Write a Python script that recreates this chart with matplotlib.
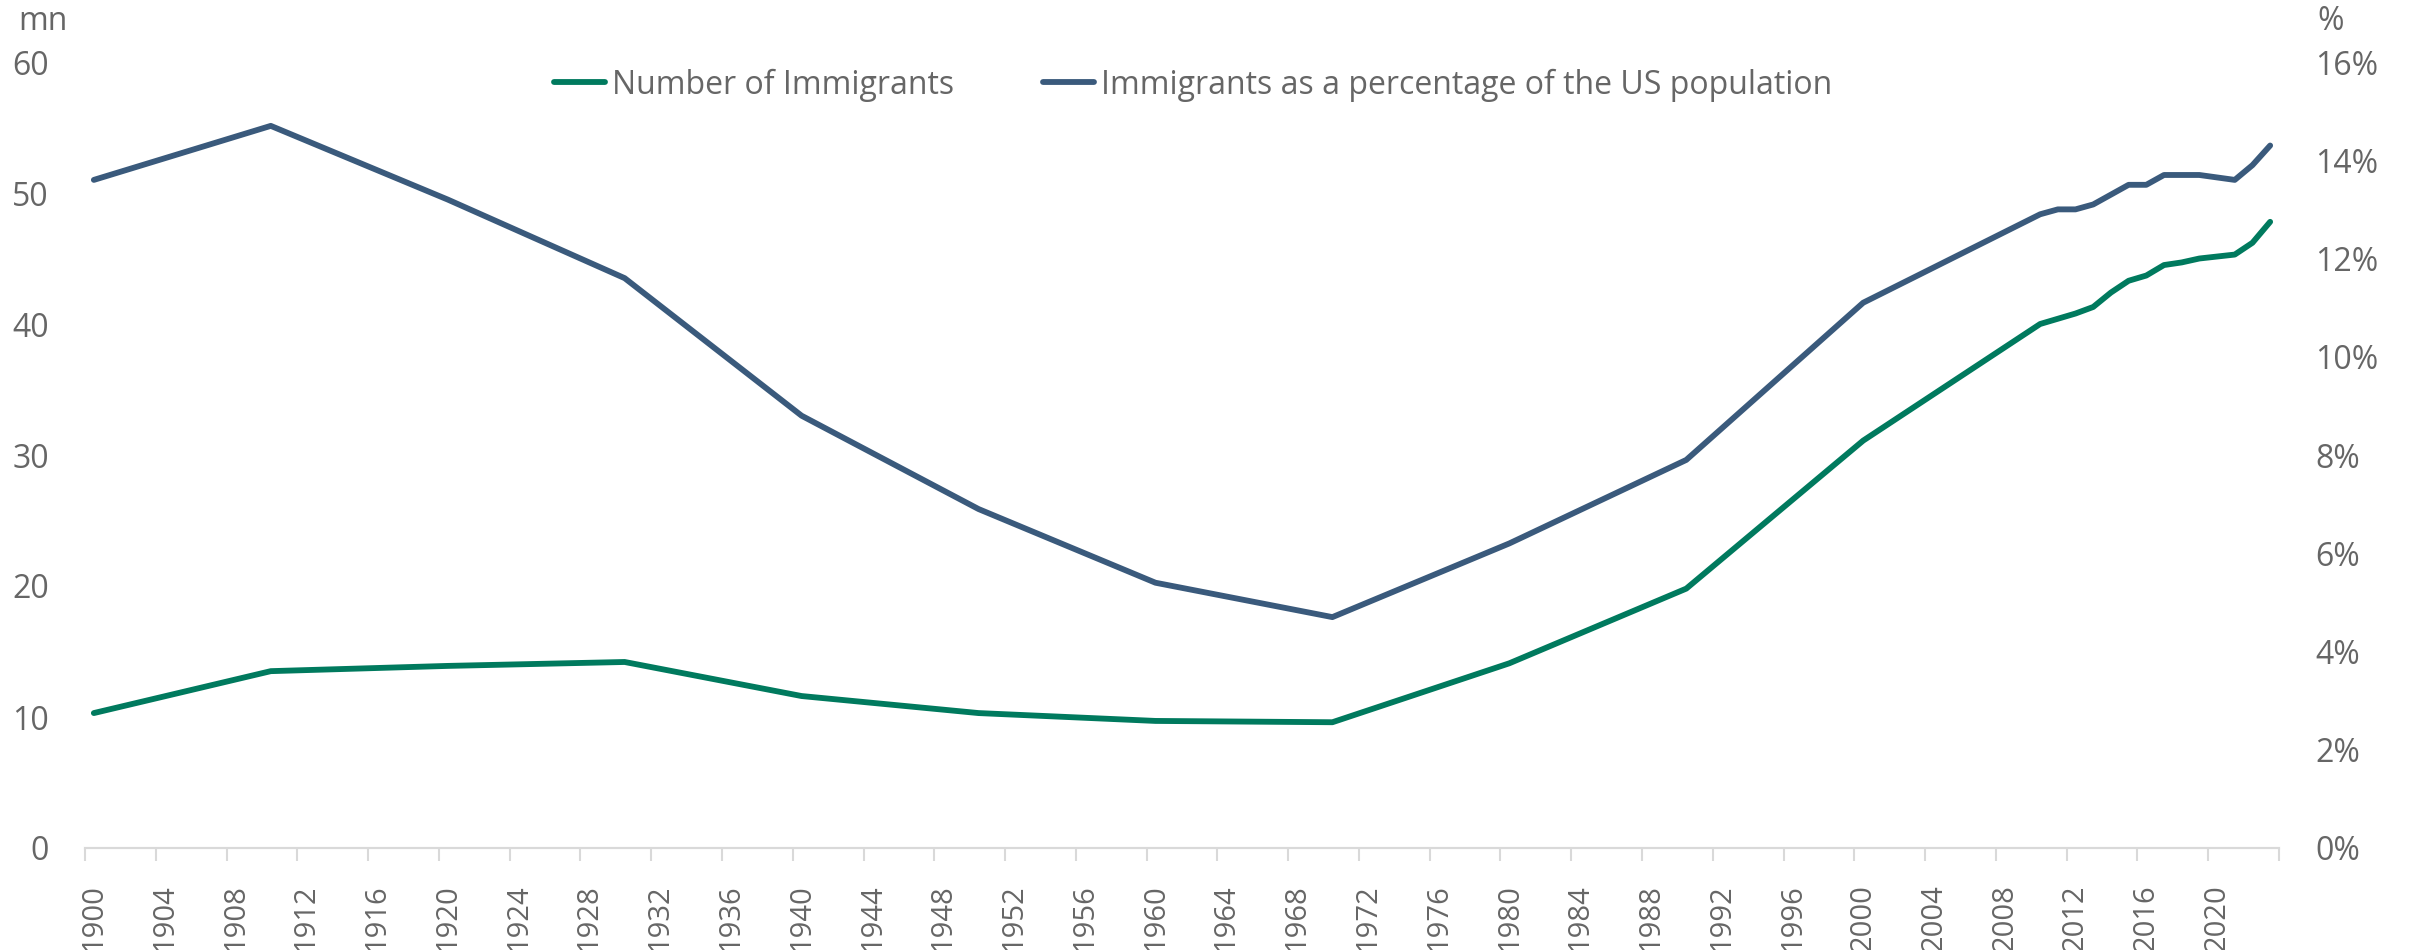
import numpy as np
from matplotlib import pyplot as plt
from matplotlib.ticker import FixedLocator, FixedFormatter

# US immigrant population (2020 not published -> line joins 2019 to 2021)
years = [1900, 1910, 1920, 1930, 1940, 1950, 1960, 1970, 1980, 1990, 2000,
         2010, 2011, 2012, 2013, 2014, 2015, 2016, 2017, 2018, 2019,
         2021, 2022, 2023]
immigrants_mn = [10.3, 13.5, 13.9, 14.2, 11.6, 10.3, 9.7, 9.6, 14.1, 19.8, 31.1,
                 40.0, 40.4, 40.8, 41.3, 42.4, 43.3, 43.7, 44.5, 44.7, 45.0,
                 45.3, 46.2, 47.8]
share_pct = [13.6, 14.7, 13.2, 11.6, 8.8, 6.9, 5.4, 4.7, 6.2, 7.9, 11.1,
             12.9, 13.0, 13.0, 13.1, 13.3, 13.5, 13.5, 13.7, 13.7, 13.7,
             13.6, 13.9, 14.3]
label_years = list(range(1900, 2021, 4))

GREEN = '#007a5e'
BLUE = '#3a5a7c'
GREY = '#666666'
AXIS = '#d9d9d9'

plt.rcParams['font.family'] = ['Open Sans', 'DejaVu Sans']

fig = plt.figure(figsize=(24.1, 9.5), dpi=100)
ax = fig.add_axes([85 / 2410, 102 / 950, (2279 - 85) / 2410, (848 - 62) / 950])
ax2 = ax.twinx()

x = np.array(years) + 0.5  # centre of each yearly category
l1, = ax.plot(x, immigrants_mn, color=GREEN, lw=4.2, solid_capstyle='round')
l2, = ax2.plot(x, share_pct, color=BLUE, lw=4.2, solid_capstyle='round')

ax.set_xlim(1900, 2024)
ax.set_ylim(0, 60)
ax2.set_ylim(0, 16)

ax.set_yticks(range(0, 61, 10))
ax2.set_yticks(range(0, 17, 2))
ax2.set_yticklabels(['%d%%' % v for v in range(0, 17, 2)])

# tick marks at category boundaries, labels at category centres
ax.xaxis.set_major_locator(FixedLocator(list(range(1900, 2025, 4))))
ax.xaxis.set_major_formatter(FixedFormatter([]))
ax.xaxis.set_minor_locator(FixedLocator([y + 0.5 for y in label_years]))
ax.xaxis.set_minor_formatter(FixedFormatter([str(y) for y in label_years]))
ax.tick_params(axis='x', which='major', length=9, width=1.5, color=AXIS, direction='out')
ax.tick_params(axis='x', which='minor', length=0, pad=26, labelsize=21,
               labelcolor=GREY, rotation=90)
ax.tick_params(axis='y', length=0, pad=26, labelsize=23, labelcolor=GREY)
ax2.tick_params(axis='y', length=0, pad=26, labelsize=23, labelcolor=GREY)
for lab in ax.get_xticklabels(minor=True):
    lab.set_verticalalignment('top')

for a in (ax, ax2):
    for side in ('top', 'left', 'right'):
        a.spines[side].set_visible(False)
    a.spines['bottom'].set_color(AXIS)
    a.spines['bottom'].set_linewidth(1.5)

fig.text(18 / 2410, 1 - 22 / 950, 'mn', fontsize=23, color=GREY, va='center', ha='left')
fig.text(2317 / 2410, 1 - 22 / 950, '%', fontsize=23, color=GREY, va='center', ha='left')

fig.legend([l1, l2], ['Number of Immigrants', 'Immigrants as a percentage of the US population'],
           loc='center', bbox_to_anchor=(0.495, 1 - 85 / 950), ncol=2, frameon=False,
           fontsize=23, labelcolor=GREY, handlelength=1.6, handletextpad=0.2,
           columnspacing=2.8)

fig.savefig('out.png', dpi=100)
